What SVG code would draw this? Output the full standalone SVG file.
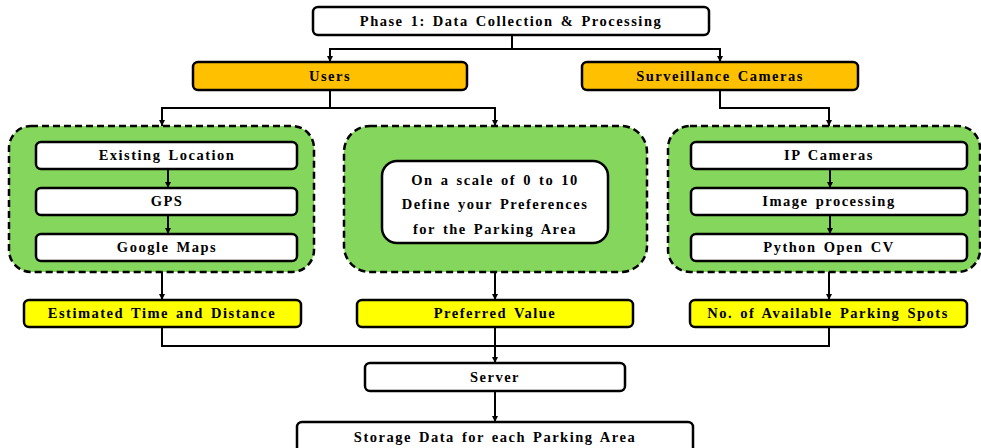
<svg xmlns="http://www.w3.org/2000/svg" width="981" height="448" viewBox="0 0 981 448">
  <defs>
    <marker id="arrow" viewBox="0 0 10 10" refX="10" refY="5" markerWidth="6" markerHeight="6" markerUnits="userSpaceOnUse" orient="auto">
      <path d="M0,0 L10,5 L0,10 z" fill="#000"/>
    </marker>
    <style>
      .box { fill: #fff; stroke: #000; stroke-width: 2.5; }
      .orange { fill: #FFC000; stroke: #000; stroke-width: 2.5; }
      .yellow { fill: #FFFF00; stroke: #000; stroke-width: 2.5; }
      .group { fill: #84D65C; stroke: #000; stroke-width: 2.5; stroke-dasharray: 7 4; }
      .lbl { font-family: "Liberation Serif", "Times New Roman", serif; font-weight: bold; font-size: 14.5px; letter-spacing: 1.5px; word-spacing: 2px; text-anchor: middle; fill: #000; }
      .wire { fill: none; stroke: #000; stroke-width: 2; }
      .arr { fill: none; stroke: #000; stroke-width: 2; marker-end: url(#arrow); }
    </style>
  </defs>

  <!-- dashed green containers sit underneath everything else -->
  <g id="location-group">
    <rect class="group" x="9" y="126" width="305" height="146" rx="22"/>
  </g>
  <g id="preference-group">
    <rect class="group" x="344" y="126" width="303" height="146" rx="26"/>
  </g>
  <g id="camera-group">
    <rect class="group" x="668" y="126" width="312" height="146" rx="22"/>
  </g>

  <!-- connectors -->
  <g id="connectors">
    <path class="wire" d="M512,35 V49"/>
    <path class="arr" d="M512,49 H330 V62"/>
    <path class="arr" d="M512,49 H720 V62"/>
    <path class="wire" d="M330,90 V108"/>
    <path class="arr" d="M330,108 H162 V126"/>
    <path class="arr" d="M330,108 H495 V126"/>
    <path class="arr" d="M720,90 V108 H829 V126"/>
    <path class="arr" d="M168,169 V188"/>
    <path class="arr" d="M168,215 V234"/>
    <path class="arr" d="M830,169 V188"/>
    <path class="arr" d="M830,215 V234"/>
    <path class="arr" d="M162,272 V300"/>
    <path class="arr" d="M495,272 V300"/>
    <path class="arr" d="M829,272 V300"/>
    <path class="wire" d="M162,327 V346 H829 V327"/>
    <path class="arr" d="M495,327 V363"/>
    <path class="arr" d="M495,391 V422"/>
  </g>

  <g id="phase1">
    <rect class="box" x="313" y="7" width="396" height="28" rx="5"/>
    <text class="lbl" x="511" y="26">Phase 1: Data Collection &amp; Processing</text>
  </g>

  <g id="users">
    <rect class="orange" x="193" y="62" width="274" height="28" rx="5"/>
    <text class="lbl" x="330" y="81">Users</text>
  </g>

  <g id="cameras">
    <rect class="orange" x="582" y="62" width="276" height="28" rx="5"/>
    <text class="lbl" x="720" y="81">Surveillance Cameras</text>
  </g>

  <g id="existing-location">
    <rect class="box" x="36" y="142" width="261" height="27" rx="5"/>
    <text class="lbl" x="167" y="160">Existing Location</text>
  </g>
  <g id="gps">
    <rect class="box" x="36" y="188" width="261" height="27" rx="5"/>
    <text class="lbl" x="167" y="206">GPS</text>
  </g>
  <g id="google-maps">
    <rect class="box" x="36" y="234" width="261" height="27" rx="5"/>
    <text class="lbl" x="167" y="252">Google Maps</text>
  </g>

  <g id="preference-scale">
    <rect class="box" x="382" y="161" width="226" height="82" rx="15"/>
    <text class="lbl" x="495" y="185">On a scale of 0 to 10</text>
    <text class="lbl" x="495" y="209">Define your Preferences</text>
    <text class="lbl" x="495" y="234">for the Parking Area</text>
  </g>

  <g id="ip-cameras">
    <rect class="box" x="691" y="142" width="276" height="27" rx="5"/>
    <text class="lbl" x="829" y="160">IP Cameras</text>
  </g>
  <g id="image-processing">
    <rect class="box" x="691" y="188" width="276" height="27" rx="5"/>
    <text class="lbl" x="829" y="206">Image processing</text>
  </g>
  <g id="python-opencv">
    <rect class="box" x="691" y="234" width="276" height="27" rx="5"/>
    <text class="lbl" x="829" y="252">Python Open CV</text>
  </g>

  <g id="time-distance">
    <rect class="yellow" x="24" y="300" width="277" height="27" rx="5"/>
    <text class="lbl" x="162" y="318">Estimated Time and Distance</text>
  </g>
  <g id="preferred-value">
    <rect class="yellow" x="357" y="300" width="276" height="27" rx="5"/>
    <text class="lbl" x="495" y="318">Preferred Value</text>
  </g>
  <g id="parking-spots">
    <rect class="yellow" x="690" y="300" width="277" height="27" rx="5"/>
    <text class="lbl" x="828" y="318">No. of Available Parking Spots</text>
  </g>

  <g id="server">
    <rect class="box" x="365" y="363" width="260" height="28" rx="5"/>
    <text class="lbl" x="495" y="382">Server</text>
  </g>

  <g id="storage">
    <rect class="box" x="297" y="422" width="396" height="34" rx="5"/>
    <text class="lbl" x="495" y="442">Storage Data for each Parking Area</text>
  </g>
</svg>
